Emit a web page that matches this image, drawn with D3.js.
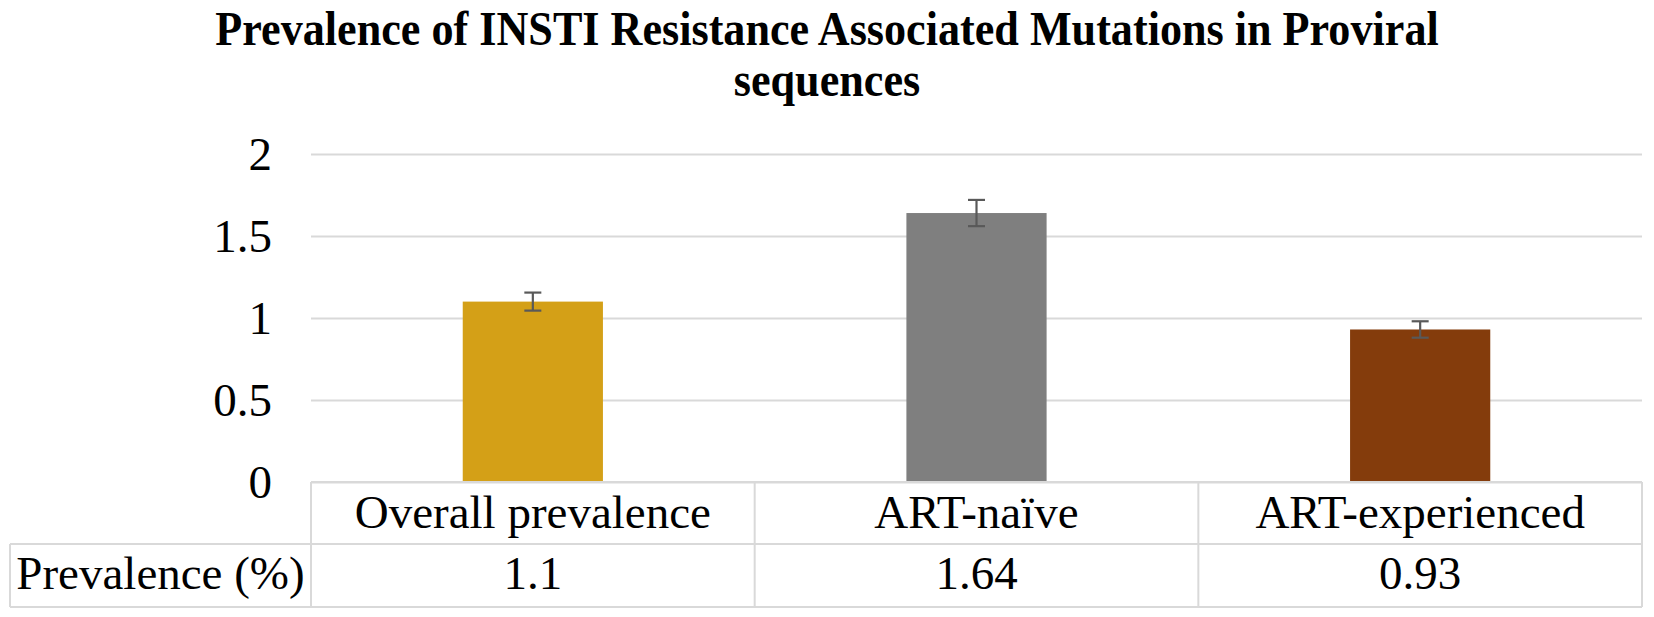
<!DOCTYPE html>
<html>
<head>
<meta charset="utf-8">
<script src="https://cdn.jsdelivr.net/npm/d3@7"></script>
<style>
  html, body { margin: 0; padding: 0; background: #fff; }
  svg { display: block; }
</style>
</head>
<body>
<svg id="chart" width="1654" height="617"></svg>
<script>
const titleLines = ["Prevalence of INSTI Resistance Associated Mutations in Proviral", "sequences"];
const categories = ["Overall prevalence", "ART-naïve", "ART-experienced"];
const values = [1.1, 1.64, 0.93];
const errors = [0.055, 0.08, 0.05];
const barColors = ["#D4A017", "#7F7F7F", "#843C0C"];
const yTicks = [0, 0.5, 1, 1.5, 2];
const yTickLabels = ["0", "0.5", "1", "1.5", "2"];
const tableRowLabel = "Prevalence (%)";
const tableValues = ["1.1", "1.64", "0.93"];

const FONT = "'Liberation Serif', 'Times New Roman', Times, serif";
const plotLeft = 311, plotRight = 1642, plotTop = 154, plotBottom = 482;
const tableLeft = 10, row1Bottom = 544, row2Bottom = 607;
const gridColor = "#d9d9d9";

const svg = d3.select("#chart").style("font-family", FONT);

const x = d3.scaleBand().domain(categories).range([plotLeft, plotRight]).paddingInner(0).paddingOuter(0);
const y = d3.scaleLinear().domain([0, 2]).range([plotBottom, plotTop]);

// Title (slightly condensed like the reference)
const title = svg.append("text")
  .attr("transform", "translate(827,0) scale(0.92,1)")
  .attr("text-anchor", "middle")
  .style("font-family", FONT)
  .style("font-weight", "bold")
  .style("font-size", "48px")
  .attr("fill", "#000");
title.selectAll("tspan").data(titleLines).join("tspan")
  .attr("x", 0)
  .attr("y", (d, i) => 45 + i * 51)
  .text(d => d);

// Y axis with gridlines
const yAxis = d3.axisLeft(y)
  .tickValues(yTicks)
  .tickFormat((d, i) => yTickLabels[i])
  .tickSize(-(plotRight - plotLeft))
  .tickPadding(39);
const gy = svg.append("g").attr("transform", `translate(${plotLeft},0)`).call(yAxis);
gy.select(".domain").remove();
gy.selectAll(".tick line").attr("stroke", gridColor).attr("stroke-width", 2);
gy.selectAll(".tick text")
  .style("font-family", FONT)
  .style("font-size", "47px")
  .attr("fill", "#000")
  .attr("dy", "0.34em");

// Bars
const frac = 0.316;
const bw = x.bandwidth() * frac;
svg.append("g").selectAll("rect").data(categories).join("rect")
  .attr("x", d => x(d) + (x.bandwidth() - bw) / 2)
  .attr("width", bw)
  .attr("y", (d, i) => y(values[i]))
  .attr("height", (d, i) => y(0) - y(values[i]))
  .attr("fill", (d, i) => barColors[i]);

// Error bars
const eg = svg.append("g").attr("stroke", "#595959").attr("stroke-width", 2.2);
categories.forEach((c, i) => {
  const cx = x(c) + x.bandwidth() / 2;
  const y1 = y(values[i] + errors[i]), y2 = y(values[i] - errors[i]);
  eg.append("line").attr("x1", cx).attr("x2", cx).attr("y1", y1).attr("y2", y2);
  eg.append("line").attr("x1", cx - 8.5).attr("x2", cx + 8.5).attr("y1", y1).attr("y2", y1);
  eg.append("line").attr("x1", cx - 8.5).attr("x2", cx + 8.5).attr("y1", y2).attr("y2", y2);
});

// Data table
const tg = svg.append("g").attr("stroke", gridColor).attr("stroke-width", 2).attr("fill", "none");
tg.append("line").attr("x1", plotLeft).attr("x2", plotRight).attr("y1", plotBottom).attr("y2", plotBottom);
tg.append("line").attr("x1", tableLeft).attr("x2", plotRight).attr("y1", row1Bottom).attr("y2", row1Bottom);
tg.append("line").attr("x1", tableLeft).attr("x2", plotRight).attr("y1", row2Bottom).attr("y2", row2Bottom);
tg.append("line").attr("x1", tableLeft).attr("x2", tableLeft).attr("y1", row1Bottom).attr("y2", row2Bottom);
const colEdges = categories.map(c => x(c)).concat([plotRight]);
tg.selectAll("line.col").data(colEdges).join("line").attr("class", "col")
  .attr("x1", d => d).attr("x2", d => d)
  .attr("y1", plotBottom).attr("y2", row2Bottom);

function cellText(g) {
  return g.attr("text-anchor", "middle")
    .style("font-family", FONT)
    .style("font-size", "47px")
    .attr("fill", "#000");
}

svg.append("g").selectAll("text").data(categories).join("text")
  .attr("x", d => x(d) + x.bandwidth() / 2)
  .attr("y", 528)
  .call(cellText)
  .text(d => d);

svg.append("g").selectAll("text").data(tableValues).join("text")
  .attr("x", (d, i) => x(categories[i]) + x.bandwidth() / 2)
  .attr("y", 589)
  .call(cellText)
  .text(d => d);

svg.append("text")
  .attr("x", (tableLeft + plotLeft) / 2)
  .attr("y", 589)
  .call(cellText)
  .text(tableRowLabel);
</script>
</body>
</html>
